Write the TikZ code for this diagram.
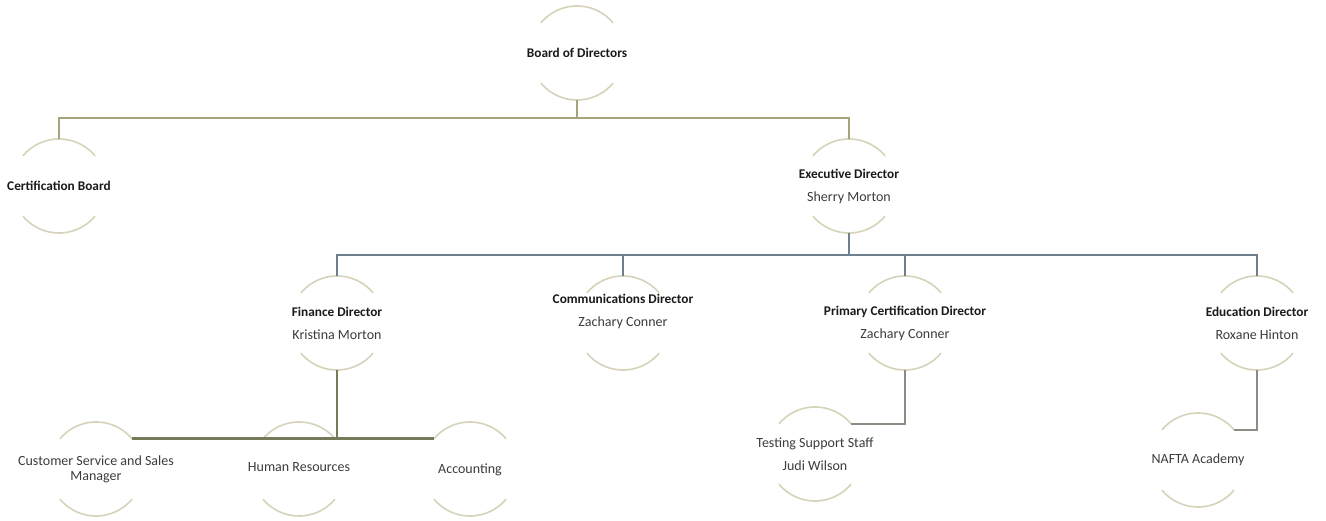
\documentclass[tikz,border=0pt]{standalone}
\usepackage{fontspec}
\setmainfont{Carlito}
\usetikzlibrary{calc}
\definecolor{arccol}{HTML}{D6D3BA}
\definecolor{lineA}{HTML}{A8A37C}
\definecolor{lineB}{HTML}{6E7F8E}
\definecolor{lineC}{HTML}{767A58}
\definecolor{lineD}{HTML}{8C8C82}
\definecolor{titlecol}{HTML}{1A1A1A}
\definecolor{namecol}{HTML}{3C3C3C}
\tikzset{
  ring/.style={circle,draw=none,minimum size=94pt,inner sep=0pt,outer sep=0pt},
  lbl/.style={align=center,font=\fontsize{14}{23}\selectfont,text=namecol,inner sep=0pt},
  arcst/.style={draw=arccol,line width=1.6pt},
  cA/.style={draw=lineA,line width=1.8pt},
  cB/.style={draw=lineB,line width=1.8pt},
  cC/.style={draw=lineC,line width=2.6pt},
  cD/.style={draw=lineD,line width=1.8pt},
}
\newcommand{\ttl}[1]{{\fontsize{13.3}{23}\selectfont\bfseries\color{titlecol}#1}}
\newcommand{\rings}[1]{%
  \draw[arcst] (#1.40) arc[start angle=40,end angle=140,radius=47pt];
  \draw[arcst] (#1.220) arc[start angle=220,end angle=320,radius=47pt];}
\begin{document}
\begin{tikzpicture}[x=1pt,y=1pt]
\path[use as bounding box,fill=white] (0,0) rectangle (1326,521);
% shapes
\node[ring] (board) at (577,468) {};
\node[ring] (cert) at (59,335) {};
\node[ring] (exec) at (849,335) {};
\node[ring] (fin) at (337,198) {};
\node[ring] (comm) at (623,198) {};
\node[ring] (prim) at (905,198) {};
\node[ring] (edu) at (1257,198) {};
\node[ring] (cs) at (96,52) {};
\node[ring] (hr) at (299,52) {};
\node[ring] (acc) at (470,52) {};
\node[ring] (ts) at (815,67) {};
\node[ring] (naf) at (1198,61) {};
\foreach \n in {board,cert,exec,fin,comm,prim,edu,cs,hr,acc,ts,naf}{\rings{\n}}
% connectors
\draw[cA] (board.south) -- ++(0,-18) -| (cert.north);
\draw[cA] (board.south) -- ++(0,-18) -| (exec.north);
\foreach \t in {fin,comm,prim,edu}{\draw[cB] (exec.south) -- ++(0,-22) -| (\t.north);}
\draw[cC] (fin.south) |- (cs.40);
\draw[cC] (fin.south) |- (acc.140);
\draw[cD] (prim.south) |- (ts.40);
\draw[cD] (edu.south) |- (naf.40);
% labels
\node[lbl] (boardt) at (board) {\ttl{Board of Directors}};
\node[lbl] (certt) at (cert) {\ttl{Certification Board}};
\node[lbl] (exect) at ($(exec)+(0,0)$) {\ttl{Executive Director}\\Sherry Morton};
\node[lbl] (fint) at (fin) {\ttl{Finance Director}\\Kristina Morton};
\node[lbl] (commt) at ($(comm)+(0,12)$) {\ttl{Communications Director}\\Zachary Conner};
\node[lbl] (primt) at (prim) {\ttl{Primary Certification Director}\\Zachary Conner};
\node[lbl] (edut) at (edu) {\ttl{Education Director}\\Roxane Hinton};
\node[lbl] (cst) at ($(cs)+(0,0)$) {Customer Service and Sales\\[-8pt]Manager};
\node[lbl] (hrt) at ($(hr)+(0,2)$) {Human Resources};
\node[lbl] (acct) at ($(acc)+(0,-1)$) {Accounting};
\node[lbl] (tst) at (ts) {Testing Support Staff\\Judi Wilson};
\node[lbl] (naft) at (naf) {NAFTA Academy};
\end{tikzpicture}
\end{document}
